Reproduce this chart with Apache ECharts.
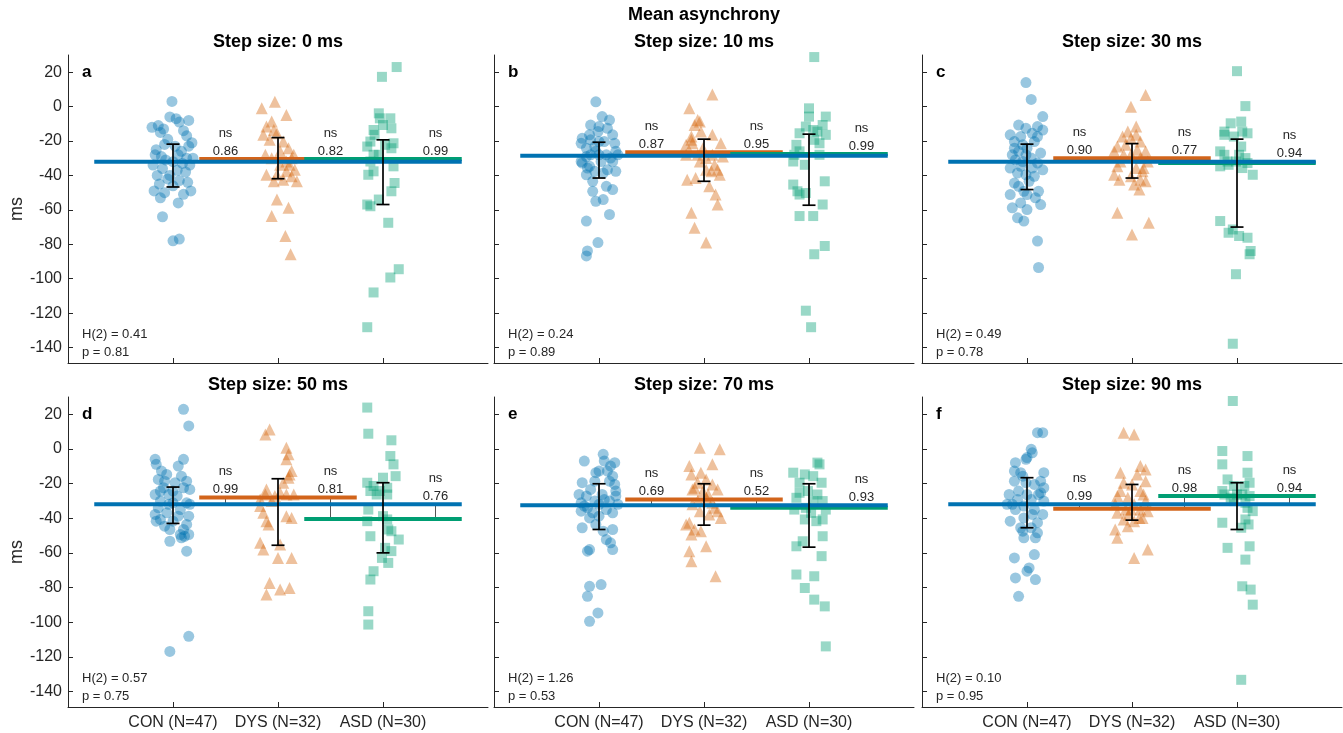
<!DOCTYPE html>
<html>
<head>
<meta charset="utf-8">
<script src="https://cdn.jsdelivr.net/npm/echarts@6/dist/echarts.min.js"></script>
<style>html,body{margin:0;padding:0;background:#fff}#chart{width:1343px;height:733px}</style>
</head>
<body>
<div id="chart"></div>
<script>
// ---------------- data ----------------
const categories = ['CON (N=47)', 'DYS (N=32)', 'ASD (N=30)'];
const stepSizes = [0, 10, 30, 50, 70, 90];
const panelLetters = ['a', 'b', 'c', 'd', 'e', 'f'];
const yTickValues = [-140, -120, -100, -80, -60, -40, -20, 0, 20];

// each point: [horizontal jitter (category units), value in ms]
const a_CON = [[-0.01,3],[-0.03,-6],[0.03,-7],[0.15,-8],[-0.14,-11],[-0.2,-12],[-0.09,-13],[0.06,-9],[0.1,-14],[-0.12,-15],[0.13,-17],[-0.05,-19],[0.18,-21],[-0.08,-22],[0.02,-23],[0.15,-23],[-0.17,-28],[-0.11,-29],[0.05,-28],[0.13,-30],[-0.07,-31],[0.0,-32],[0.09,-33],[-0.19,-34],[0.16,-34],[-0.1,-36],[0.04,-37],[0.12,-38],[-0.15,-40],[-0.05,-42],[0.06,-43],[0.14,-44],[-0.13,-45],[0.0,-46],[0.17,-49],[-0.18,-49],[-0.08,-50],[0.1,-51],[-0.12,-53],[0.05,-56],[-0.1,-64],[0.0,-78],[0.06,-77],[-0.16,-25],[0.08,-26],[-0.03,-40],[0.19,-30]];
const a_DYS = [[-0.155,-1],[-0.03,2.8],[0.08,-4.9],[-0.06,-8.7],[-0.11,-11.6],[-0.04,-13.6],[-0.14,-16.4],[-0.01,-15.5],[0.05,-20.3],[-0.08,-19.3],[0.1,-24.2],[0.02,-26],[0.15,-28],[-0.12,-28],[0.08,-31.9],[0.11,-33.8],[0.16,-36.7],[-0.11,-39.6],[-0.01,-39.6],[0.08,-37.6],[0.13,-40.5],[0.05,-42.5],[-0.04,-43.4],[0.18,-43.4],[-0.01,-54],[0.1,-58.8],[-0.06,-63.6],[0.07,-75.2],[0.12,-85.8],[0.02,-33.8],[-0.06,-30],[0.13,-30]];
const a_ASD = [[0.13,23],[-0.01,17.3],[-0.04,-3.9],[0.07,-6.8],[0.0,-10.7],[-0.09,-13.6],[0.08,-12.6],[-0.08,-16.4],[-0.12,-20.3],[0.1,-21.3],[0.08,-24.2],[-0.15,-23.2],[-0.04,-28],[-0.12,-31.9],[-0.09,-37.6],[-0.14,-39.6],[0.11,-44.4],[0.08,-49.2],[-0.04,-54],[-0.15,-56.9],[-0.12,-57.9],[0.05,-67.5],[0.15,-94.5],[0.07,-99.3],[-0.09,-108],[-0.15,-128.2],[0.1,-34.7],[0.02,-22.2],[-0.03,-6.8],[-0.09,-28]];

const b_CON = [[-0.03,2.8],[0.03,-5.8],[0.1,-7.8],[-0.08,-10.7],[0.0,-11.6],[0.13,-16.4],[-0.16,-18.4],[-0.08,-19.3],[0.05,-20.3],[-0.17,-21.3],[0.15,-21.3],[-0.12,-24.2],[-0.03,-26],[0.16,-26],[0.07,-28],[-0.12,-29],[0.0,-28],[0.13,-31.9],[-0.16,-32.8],[-0.09,-34.7],[0.08,-36.7],[-0.04,-37.6],[-0.12,-39.6],[0.04,-38.6],[0.11,-29.9],[-0.06,-43.4],[0.13,-48.2],[-0.06,-49.2],[0.04,-54],[-0.03,-55],[-0.12,-66.5],[0.1,-62.7],[-0.01,-79],[-0.11,-83.9],[-0.12,-86.8],[0.18,-28],[-0.17,-31.9],[0.0,-20.3],[0.08,-12.6],[-0.09,-16.4],[0.02,-31.9],[-0.04,-23.2],[0.07,-46.3],[-0.11,-35.7],[0.16,-37.6],[-0.01,-14.5],[-0.08,-28]];
const b_DYS = [[0.08,7.1],[-0.14,-1],[-0.06,-7.8],[-0.09,-10.7],[-0.03,-14.5],[0.08,-16.4],[-0.12,-19.3],[0.16,-21.3],[-0.11,-21.3],[-0.01,-24.2],[-0.17,-28],[0.08,-28],[-0.06,-28],[0.02,-29.9],[-0.04,-31.9],[0.13,-36.7],[0.07,-37.6],[0.15,-39.6],[-0.16,-42.5],[-0.08,-41.5],[0.05,-46.3],[0.11,-51.1],[0.13,-56.9],[-0.12,-61.7],[-0.09,-70.4],[0.02,-79],[-0.12,-17.4],[-0.04,-8.7],[0.1,-33.8],[0.02,-36.7],[-0.17,-22.2],[0.18,-29]];
const b_ASD = [[0.05,28.8],[0.0,-1],[0.0,-5.8],[0.16,-5.8],[0.13,-10.7],[-0.03,-11.6],[0.04,-13.6],[0.08,-14.5],[0.16,-16.4],[-0.09,-15.5],[0.05,-19.3],[0.1,-21.3],[-0.12,-22.2],[-0.09,-26],[-0.15,-31.9],[-0.04,-33.8],[0.15,-43.4],[-0.15,-45.3],[-0.11,-49.2],[-0.03,-50.2],[0.13,-56.9],[0.04,-63.6],[-0.09,-63.6],[0.15,-81],[0.05,-85.8],[-0.03,-118.6],[0.02,-128.2],[-0.14,-28],[0.1,-28],[-0.09,-51.1]];

const c_CON = [[-0.01,14],[0.04,4.2],[0.15,-5.8],[-0.08,-10.7],[-0.01,-12.6],[0.1,-11.6],[0.15,-13.6],[-0.16,-16.4],[-0.06,-17.4],[0.1,-17.4],[-0.12,-20.3],[-0.04,-22.2],[0.07,-20.3],[0.13,-27],[-0.08,-26],[-0.01,-28],[-0.14,-28],[0.04,-29.9],[-0.11,-30.9],[0.1,-32.8],[0.15,-36.7],[-0.16,-35.7],[-0.06,-34.7],[0.05,-35.7],[-0.09,-38.6],[-0.01,-39.6],[-0.12,-44.4],[-0.08,-46.3],[0.02,-43.4],[0.11,-49.2],[-0.16,-51.1],[0.0,-51.1],[0.08,-53],[-0.06,-56],[0.13,-56.9],[-0.14,-58.8],[0.0,-59.8],[-0.09,-64.6],[-0.03,-66.5],[0.1,-78.1],[0.11,-93.5],[-0.04,-31.9],[0.0,-24.2],[0.05,-15.5],[-0.12,-24.2],[0.07,-40.5],[-0.03,-49.2]];
const c_DYS = [[0.13,6.7],[-0.01,-0.1],[0.04,-11.6],[-0.09,-17.4],[-0.01,-18.4],[0.04,-16.4],[0.08,-20.3],[-0.14,-23.2],[-0.06,-22.2],[0.13,-26],[-0.17,-26],[-0.01,-28],[0.08,-29.9],[-0.11,-31.9],[0.15,-31.9],[-0.14,-34.7],[0.04,-35.7],[0.1,-37.6],[-0.17,-39.6],[-0.01,-40.5],[0.08,-42.5],[-0.12,-42.5],[0.02,-45.3],[0.07,-48.2],[-0.14,-61.7],[0.16,-67.5],[0.0,-74.3],[-0.04,-14.5],[0.11,-35.7],[-0.08,-28],[0.05,-25.1],[0.13,-43.4]];
const c_ASD = [[0.0,20.6],[0.08,0.3],[0.04,-8.7],[-0.06,-9.7],[0.1,-15.5],[-0.12,-16.4],[-0.03,-17.4],[-0.16,-26],[0.02,-28],[0.08,-29.9],[-0.16,-34.7],[-0.08,-33.8],[0.05,-35.7],[0.15,-39.6],[-0.01,-31.9],[0.1,-32.8],[-0.16,-66.5],[-0.04,-71.4],[0.02,-75.2],[0.1,-76.2],[0.12,-85.8],[0.13,-83.9],[-0.01,-97.4],[-0.04,-137.8],[-0.09,-31.9],[-0.12,-14.5],[0.05,-14.5],[-0.08,-73.3],[0.04,-23.2],[-0.12,-28]];

const d_CON = [[0.1,22.9],[0.15,13.3],[-0.17,-6],[-0.16,-8.9],[0.1,-6],[0.05,-9.9],[-0.06,-14.7],[-0.14,-17.6],[0.08,-15.7],[0.13,-18.6],[0.02,-19.5],[-0.09,-22.4],[0.16,-23.4],[-0.17,-26.3],[-0.04,-26.3],[-0.12,-30.1],[0.13,-31.1],[0.0,-31.1],[-0.14,-34],[0.07,-35],[-0.17,-37.8],[-0.06,-36.9],[0.15,-38.8],[-0.12,-40.7],[0.0,-41.7],[0.13,-43.6],[-0.08,-44.6],[0.1,-46.5],[0.15,-49.4],[0.08,-51.3],[0.11,-50.4],[-0.03,-53.3],[0.13,-59],[0.15,-108.2],[-0.03,-116.9],[-0.12,-24.3],[0.0,-24.3],[-0.08,-18.6],[0.04,-27.2],[0.1,-22.4],[-0.16,-41.7],[0.05,-38.8],[-0.04,-32],[0.16,-32],[-0.11,-12.8],[0.07,-49.4],[-0.03,-46.5]];
const d_DYS = [[-0.12,8.4],[-0.08,11.3],[0.08,0.7],[0.1,-3.1],[0.08,-6],[0.13,-12.8],[0.11,-14.7],[0.1,-16.6],[-0.11,-23.4],[-0.12,-26.3],[0.02,-25.3],[0.08,-26.3],[0.15,-26.3],[-0.17,-29.2],[-0.06,-30.1],[-0.17,-33],[-0.14,-36.9],[0.08,-38.8],[0.13,-39.8],[-0.11,-41.7],[-0.09,-43.6],[-0.17,-54.2],[-0.14,-58.1],[0.02,-55.2],[0.0,-62.9],[0.13,-62.9],[-0.08,-77.4],[0.02,-81.2],[0.11,-80.3],[-0.11,-84.1],[0.05,-19.5],[-0.03,-27.2]];
const d_ASD = [[-0.15,23.9],[-0.14,8.8],[0.08,5],[0.07,-4.1],[0.1,-8.9],[0.12,-15.7],[0.0,-16.6],[-0.15,-19.5],[-0.09,-21.4],[0.04,-22.4],[-0.12,-24.3],[-0.03,-24.3],[-0.06,-26.3],[-0.14,-35],[0.0,-38.8],[-0.15,-41.7],[0.04,-40.7],[-0.12,-50.4],[0.05,-46.5],[0.08,-47.5],[0.15,-52.3],[0.02,-57.1],[0.08,-59],[-0.01,-62.9],[0.05,-65.8],[-0.09,-70.6],[-0.12,-75.4],[-0.14,-93.7],[-0.14,-101.4],[0.04,-26.3]];

const e_CON = [[-0.14,-7],[0.04,-3.1],[0.05,-7],[0.15,-7.9],[0.11,-9.9],[0.0,-12.8],[-0.16,-19.5],[-0.03,-13.7],[0.13,-15.7],[0.1,-18.6],[0.15,-20.5],[-0.08,-23.4],[-0.12,-27.2],[0.03,-26.3],[0.16,-27.2],[-0.17,-31.1],[-0.04,-30.1],[0.1,-30.1],[0.0,-32],[0.18,-32],[-0.11,-34],[0.07,-35],[-0.17,-35.9],[-0.06,-36.9],[0.13,-36.9],[-0.09,-39.8],[0.0,-38.8],[-0.16,-45.5],[0.13,-46.5],[0.04,-47.5],[0.07,-52.3],[-0.09,-58.1],[-0.11,-59],[0.13,-58.1],[0.11,-54.2],[-0.09,-79.3],[0.02,-78.3],[-0.11,-85.1],[-0.01,-94.7],[-0.09,-99.5],[0.08,-12.8],[-0.04,-18.6],[0.16,-24.3],[-0.19,-26.3],[-0.03,-43.6],[-0.14,-33],[0.05,-29.2]];
const e_DYS = [[-0.04,0.7],[0.15,-0.2],[-0.14,-9.9],[0.08,-8.9],[-0.12,-14.7],[-0.03,-13.7],[0.02,-17.6],[-0.06,-19.5],[-0.11,-23.4],[0.13,-23.4],[0.08,-20.5],[0.04,-26.3],[-0.01,-24.3],[-0.06,-30.1],[0.08,-31.1],[-0.11,-32],[0.13,-35.9],[-0.04,-35.9],[0.16,-39.8],[-0.14,-42.6],[-0.17,-43.6],[-0.09,-46.5],[-0.12,-49.4],[-0.03,-47.5],[0.02,-56.2],[-0.14,-59],[-0.12,-64.8],[0.11,-73.5],[0.02,-28.2],[0.1,-34],[-0.09,-22.4],[0.05,-37.8]];
const e_ASD = [[0.1,-8.9],[0.08,-7.9],[-0.15,-13.7],[-0.04,-14.7],[0.04,-15.7],[-0.09,-19.5],[0.12,-19.5],[-0.01,-24.3],[-0.09,-25.3],[0.13,-30.1],[-0.14,-35],[0.16,-35],[0.07,-41.7],[0.13,-40.7],[-0.04,-40.7],[0.13,-50.4],[-0.06,-53.3],[-0.12,-56.2],[0.12,-61.9],[-0.12,-72.5],[0.05,-73.5],[-0.04,-80.3],[0.05,-87],[0.15,-90.9],[0.16,-114],[0.04,-30.1],[-0.03,-34],[0.08,-26.3],[-0.12,-28.2],[0.02,-36.9]];

const f_CON = [[0.1,9.4],[0.15,9.4],[0.04,-0.2],[-0.01,-6],[0.05,-2.2],[-0.11,-7.9],[-0.06,-13.7],[0.16,-13.7],[0.13,-18.6],[-0.12,-18.6],[-0.01,-19.5],[0.13,-25.3],[-0.17,-26.3],[-0.08,-24.3],[0.04,-29.2],[-0.14,-32],[-0.03,-33],[0.15,-37.8],[0.07,-35],[-0.16,-41.7],[-0.03,-39.8],[0.1,-42.6],[-0.06,-45.5],[0.04,-45.5],[-0.03,-51.3],[0.1,-48.4],[-0.12,-62.9],[0.07,-61],[0.02,-68.7],[0.0,-70.6],[-0.11,-74.5],[0.08,-75.4],[-0.08,-85.1],[-0.04,-15.7],[0.07,-20.5],[-0.11,-35],[0.0,-26.3],[-0.12,-12.8],[0.16,-30.1],[0.11,-26.3],[-0.19,-32],[0.05,-37.8],[-0.09,-29.2],[-0.04,-47.5],[0.08,-51.3],[0.16,-22.4],[0.0,-5]];
const f_DYS = [[-0.08,9.4],[0.02,8.4],[-0.11,-13.7],[0.08,-9.9],[0.13,-11.8],[0.05,-14.7],[-0.08,-19.5],[0.13,-18.6],[0.08,-24.3],[-0.14,-27.2],[-0.04,-28.2],[0.13,-30.1],[0.02,-32],[-0.16,-32],[0.08,-35],[-0.06,-35],[0.15,-35.9],[-0.14,-36.9],[-0.03,-37.8],[0.07,-39.8],[-0.08,-40.7],[0.02,-41.7],[-0.16,-46.5],[-0.04,-44.6],[-0.14,-51.3],[0.15,-58.1],[0.02,-62.9],[0.11,-26.3],[-0.11,-24.3],[0.0,-20.5],[0.1,-39.8],[-0.01,-35]];
const f_ASD = [[-0.04,27.7],[-0.14,-1.2],[0.1,-4.1],[-0.14,-8.9],[0.1,-13.7],[-0.09,-17.6],[0.12,-19.5],[-0.03,-21.4],[-0.12,-26.3],[0.05,-26.3],[0.12,-27.2],[-0.06,-28.2],[0.1,-34],[0.15,-35.9],[0.08,-40.7],[-0.14,-42.6],[0.11,-43.6],[0.04,-45.5],[0.12,-56.2],[-0.09,-57.1],[0.08,-63.9],[0.05,-79.3],[0.13,-81.2],[0.15,-89.9],[0.04,-133.3],[0.0,-26.3],[-0.14,-24.3],[0.07,-21.4],[-0.03,-30.1],[0.08,-31.1]];

// group medians [CON, DYS, ASD] per panel
const medians = [[-32, -30.5, -30.4], [-28.5, -26.5, -27.6], [-32, -30, -32.7], [-32, -28, -40.5], [-32.5, -29.2, -34], [-32, -34.5, -27.2]];
// error bar ends [CON, DYS, ASD]
const errLow = [[-46.7, -41.9, -56.9], [-41.5, -43.4, -57.3], [-48.2, -41.5, -70], [-43, -55.6, -60], [-46.5, -44, -56.7], [-45.5, -41.1, -46.5]];
const errHigh = [[-21.8, -18, -19.3], [-20.7, -18.9, -16], [-21.8, -21.5, -18.9], [-22, -17.2, -19.5], [-20.1, -20.1, -20.1], [-16.6, -20.5, -19.5]];
// pairwise p values: [CON vs DYS, DYS vs ASD, CON vs ASD]
const pairP = [['0.86', '0.82', '0.99'], ['0.87', '0.95', '0.99'], ['0.90', '0.77', '0.94'], ['0.99', '0.81', '0.76'], ['0.69', '0.52', '0.93'], ['0.99', '0.98', '0.94']];
const hStat = ['0.41', '0.24', '0.49', '0.57', '1.26', '0.10'];
const kwP = ['0.81', '0.89', '0.78', '0.75', '0.53', '0.95'];

const panelData = [[a_CON, a_DYS, a_ASD], [b_CON, b_DYS, b_ASD], [c_CON, c_DYS, c_ASD], [d_CON, d_DYS, d_ASD], [e_CON, e_DYS, e_ASD], [f_CON, f_DYS, f_ASD]];

// ---------------- styling / layout ----------------
const FONT = "'Liberation Sans', Arial, Helvetica, sans-serif";
const TXT = '#262626';
const lineColors = ['#0072B2', '#D2641A', '#009E73'];
const pointColors = ['rgba(0,114,178,0.5)', 'rgba(213,100,10,0.5)', 'rgba(0,158,115,0.5)'];
const symbols = ['circle', 'triangle', 'rect'];
const symbolSizes = [11, 12, 10];
const gridLefts = [68, 494, 922];
const gridTops = [55, 397];
const gridHeights = [308, 310];
const gridWidth = 420;
const medianSpans = [[0.25, 3.75], [1.25, 2.75], [2.25, 3.75]];
const pairs = [[0, 1, 1.5], [1, 2, 2.5], [0, 2, 3.5]];

const grids = [], xAxes = [], yAxes = [], series = [], graphics = [];

graphics.push({type: 'text', x: 704, y: 15, style: {text: 'Mean asynchrony', font: 'bold 18px ' + FONT, fill: '#000', textAlign: 'center', textVerticalAlign: 'middle'}});

for (let i = 0; i < 6; i++) {
  const row = Math.floor(i / 3), col = i % 3;
  const left = gridLefts[col], top = gridTops[row], h = gridHeights[row];
  grids.push({left: left, top: top, width: gridWidth, height: h, containLabel: false});
  xAxes.push({
    type: 'value', gridIndex: i, min: 0, max: 4,
    axisLine: {show: true, onZero: false, lineStyle: {color: TXT, width: 1}},
    axisTick: {show: true, inside: true, length: 5, customValues: [1, 2, 3], lineStyle: {color: TXT}},
    axisLabel: {show: row === 1, customValues: [1, 2, 3], formatter: v => categories[Math.round(v) - 1] || '', fontFamily: FONT, fontSize: 16, color: TXT, margin: 8},
    splitLine: {show: false}
  });
  yAxes.push({
    type: 'value', gridIndex: i, min: -149, max: 30,
    name: col === 0 ? 'ms' : '', nameLocation: 'middle', nameGap: 41, nameRotate: 90,
    nameTextStyle: {fontFamily: FONT, fontSize: 18, color: TXT},
    axisLine: {show: true, onZero: false, lineStyle: {color: TXT, width: 1}},
    axisTick: {show: true, inside: true, length: 5, customValues: yTickValues, lineStyle: {color: TXT}},
    axisLabel: {show: col === 0, customValues: yTickValues, fontFamily: FONT, fontSize: 16, color: TXT, margin: 6},
    splitLine: {show: false}
  });

  // scatter points
  for (let g = 0; g < 3; g++) {
    series.push({
      type: 'scatter', xAxisIndex: i, yAxisIndex: i, silent: true, z: 2,
      symbol: symbols[g], symbolSize: symbolSizes[g],
      itemStyle: {color: pointColors[g], borderWidth: 0},
      data: panelData[i][g].map(p => [g + 1 + p[0], p[1]])
    });
  }
  // connectors between compared medians
  series.push({
    type: 'custom', xAxisIndex: i, yAxisIndex: i, silent: true, z: 3,
    data: pairs.map(p => [p[2], medians[i][p[0]], medians[i][p[1]]]),
    renderItem: (params, api) => {
      const a = api.coord([api.value(0), api.value(1)]);
      const b = api.coord([api.value(0), api.value(2)]);
      return {type: 'line', shape: {x1: a[0], y1: a[1], x2: b[0], y2: b[1]}, style: {stroke: '#555', lineWidth: 1}};
    }
  });
  // median lines: DYS, ASD, then CON on top
  [1, 2, 0].forEach(g => {
    series.push({
      type: 'line', xAxisIndex: i, yAxisIndex: i, silent: true, z: 4,
      symbol: 'none', lineStyle: {color: lineColors[g], width: 4},
      data: [[medianSpans[g][0], medians[i][g]], [medianSpans[g][1], medians[i][g]]]
    });
  });
  // error bars
  series.push({
    type: 'custom', xAxisIndex: i, yAxisIndex: i, silent: true, z: 5,
    data: [0, 1, 2].map(g => [g + 1, errLow[i][g], errHigh[i][g]]),
    renderItem: (params, api) => {
      const lo = api.coord([api.value(0), api.value(1)]);
      const hi = api.coord([api.value(0), api.value(2)]);
      const hw = 6.5, st = {stroke: '#000', lineWidth: 1.7};
      return {type: 'group', children: [
        {type: 'line', shape: {x1: lo[0], y1: lo[1], x2: hi[0], y2: hi[1]}, style: st},
        {type: 'line', shape: {x1: lo[0] - hw, y1: lo[1], x2: lo[0] + hw, y2: lo[1]}, style: st},
        {type: 'line', shape: {x1: hi[0] - hw, y1: hi[1], x2: hi[0] + hw, y2: hi[1]}, style: st}
      ]};
    }
  });
  // ns / p labels
  const ann = [];
  pairs.forEach((p, k) => {
    const yTop = Math.max(medians[i][p[0]], medians[i][p[1]]);
    ann.push([p[2], yTop, 26, 'ns']);
    ann.push([p[2], yTop, 8, pairP[i][k]]);
  });
  series.push({
    type: 'custom', xAxisIndex: i, yAxisIndex: i, silent: true, z: 6,
    data: ann,
    renderItem: (params, api) => {
      const d = ann[params.dataIndex];
      const pt = api.coord([d[0], d[1]]);
      return {type: 'text', x: pt[0], y: pt[1] - d[2], style: {text: d[3], font: '13px ' + FONT, fill: TXT, textAlign: 'center', textVerticalAlign: 'middle'}};
    }
  });

  // titles and in-panel texts
  const titleY = row === 0 ? 42 : 385;
  graphics.push({type: 'text', x: left + gridWidth / 2, y: titleY, style: {text: 'Step size: ' + stepSizes[i] + ' ms', font: 'bold 18px ' + FONT, fill: '#000', textAlign: 'center', textVerticalAlign: 'middle'}});
  graphics.push({type: 'text', x: left + 14, y: top + 17, style: {text: panelLetters[i], font: 'bold 17px ' + FONT, fill: '#000', textAlign: 'left', textVerticalAlign: 'middle'}});
  graphics.push({type: 'text', x: left + 14, y: top + h - 29, style: {text: 'H(2) = ' + hStat[i], font: '13px ' + FONT, fill: TXT, textAlign: 'left', textVerticalAlign: 'middle'}});
  graphics.push({type: 'text', x: left + 14, y: top + h - 11, style: {text: 'p = ' + kwP[i], font: '13px ' + FONT, fill: TXT, textAlign: 'left', textVerticalAlign: 'middle'}});
}

const chart = echarts.init(document.getElementById('chart'), null, {renderer: 'canvas'});
chart.setOption({
  animation: false,
  backgroundColor: '#fff',
  grid: grids, xAxis: xAxes, yAxis: yAxes, series: series,
  graphic: {elements: graphics}
});
</script>
</body>
</html>
